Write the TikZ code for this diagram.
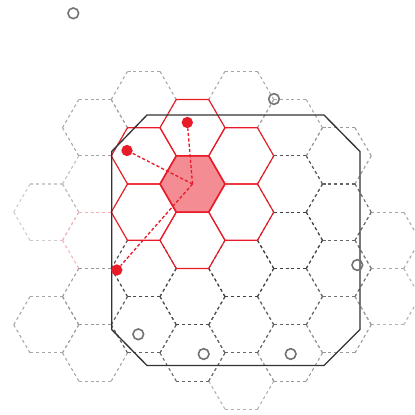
\documentclass[tikz,border=0pt]{standalone}
\usetikzlibrary{calc}
\definecolor{cellred}{RGB}{232,28,40}

\begin{document}
\begin{tikzpicture}[
    x=0.75pt, y=-0.75pt,
    hexedge/.style={line width=0.8pt, dash pattern=on 2.25pt off 2.175pt},
    cell/.style={draw=cellred, line width=0.85pt},
    home/.style={cell, fill=cellred, fill opacity=0.5, line width=1.2pt},
    link/.style={cellred, line width=1pt, dash pattern=on 2.4pt off 1.6pt},
    hit/.style={circle, fill=cellred, inner sep=0pt, minimum size=8.5pt},
    miss/.style={circle, draw=black!55, line width=1.2pt, inner sep=0pt, minimum size=8pt},
    area/.style={draw=black!80, line width=1pt}
  ]
  \useasboundingbox (0,0) rectangle (415,415);

  % dashed grid, light cells first
  \foreach \k/\m/\g in {-3/0.5/black!20, -2/0/black!25, 1/3.5/black!30, 4/2/black!30,
      -3/2.5/black!35, -2/-1/black!35, -2/3/black!35, -1/-1.5/black!35, 1/-1.5/black!35,
      2/-1/black!35, 4/1/black!35, -2/1/cellred!35, -2/2/black!40, 2/3/black!40,
      3/-0.5/black!40, 3/2.5/black!40, 3/1.5/black!55, -1/2.5/black!60, 0/3/black!60,
      1/2.5/black!60, 2/2/black!60, 3/0.5/black!60, 2/0/black!65, -1/1.5/black!70,
      0/2/black!70, 1/1.5/black!75, 2/1/black!75}{
    \coordinate (c) at ({192.5+48.75*\k},{184+56.3*\m});
    \foreach \a in {0,60,...,300}
      \draw[hexedge, draw=\g] ($(c)+(\a:32.5)$) -- ($(c)+(\a+60:32.5)$);
  }

  % ring around the query cell
  \foreach \k/\m in {0/-1, 0/1, -1/-0.5, -1/0.5, 1/-0.5, 1/0.5}{
    \coordinate (c) at ({192.5+48.75*\k},{184+56.3*\m});
    \draw[cell] ($(c)+(0:32.5)$) \foreach \a in {60,120,...,300}{ -- ($(c)+(\a:32.5)$)} -- cycle;
  }
  \coordinate (ctr) at (192.5,184);
  \draw[home] ($(ctr)+(0:32.5)$) \foreach \a in {60,120,...,300}{ -- ($(ctr)+(\a:32.5)$)} -- cycle;

  % region
  \draw[area] (147,115) -- (324,115) -- (360,151.5) -- (360,329.5) -- (324,365.5)
    -- (147,365.5) -- (111.7,329.5) -- (111.7,151.5) -- cycle;

  \node[hit] (h1) at (187.3,122.5) {};
  \node[hit] (h2) at (127,150.5) {};
  \node[hit] (h3) at (116.8,270) {};
  \foreach \h in {h1,h2,h3}
    \draw[link] (ctr) -- (\h);

  \node[miss] (m1) at (73.3,13.3) {};
  \node[miss] (m2) at (274,99) {};
  \node[miss] (m3) at (357.3,265) {};
  \node[miss] (m4) at (138.3,334.3) {};
  \node[miss] (m5) at (203.7,354) {};
  \node[miss] (m6) at (290.7,354) {};
\end{tikzpicture}
\end{document}
